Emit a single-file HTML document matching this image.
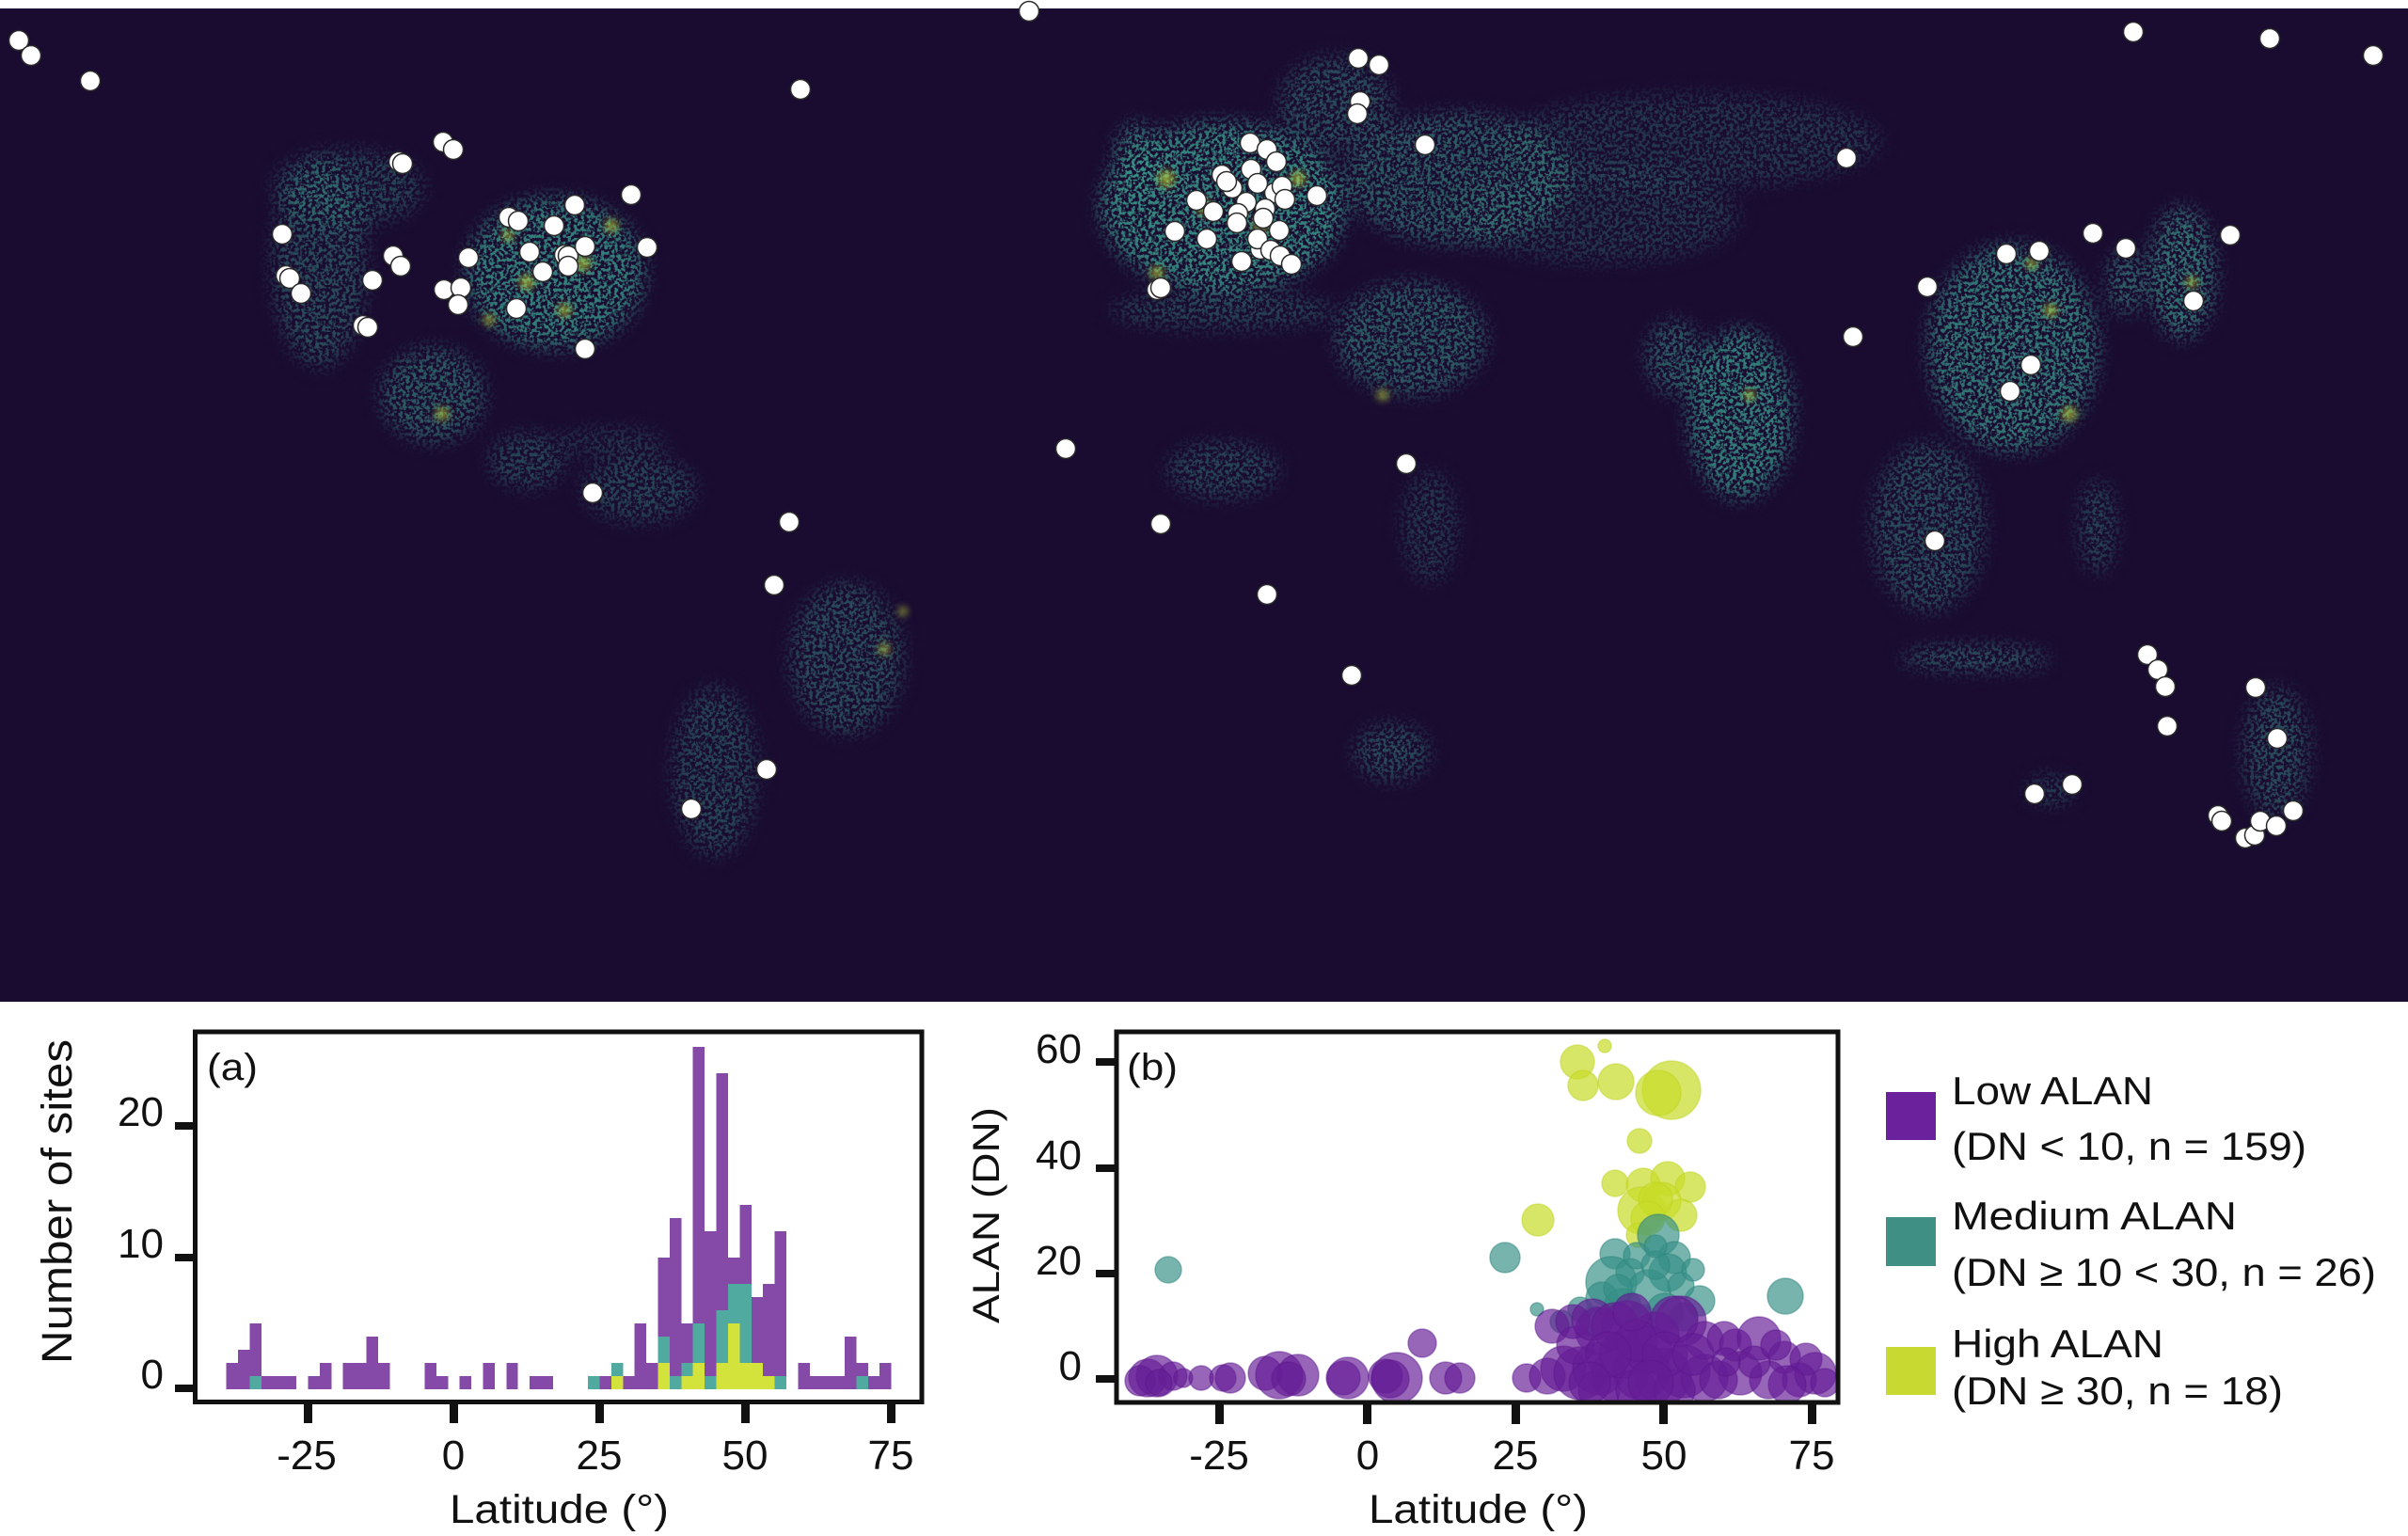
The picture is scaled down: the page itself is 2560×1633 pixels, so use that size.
<!DOCTYPE html>
<html><head><meta charset="utf-8"><style>
html,body{margin:0;padding:0;background:#fff;}
svg{display:block;}
text{font-family:"Liberation Sans",sans-serif;fill:#111;}
</style></head><body>
<svg width="2560" height="1633" viewBox="0 0 2560 1633" xmlns="http://www.w3.org/2000/svg">
<defs>
<filter id="speck" filterUnits="userSpaceOnUse" x="0" y="9" width="2560" height="1056">
<feGaussianBlur in="SourceGraphic" stdDeviation="10" result="b"/>
<feTurbulence type="fractalNoise" baseFrequency="0.28" numOctaves="2" seed="7" result="n"/>
<feColorMatrix in="n" type="matrix" values="0 0 0 0 0  0 0 0 0 0  0 0 0 0 0  0 0 0 6 -2.6" result="m"/>
<feComposite in="b" in2="m" operator="in"/>
</filter>
<filter id="bl2" x="-50%" y="-50%" width="200%" height="200%"><feGaussianBlur stdDeviation="4"/></filter>
<clipPath id="cb"><rect x="1187" y="1097" width="767" height="394"/></clipPath>
</defs>
<rect x="0" y="0" width="2560" height="1633" fill="#fff"/>
<rect x="0" y="9" width="2560" height="1056" fill="#1a0b30"/>
<g filter="url(#speck)" fill="#3a9a8c">
<ellipse cx="590" cy="290" rx="95" ry="80" opacity="0.8"/>
<ellipse cx="340" cy="280" rx="50" ry="110" opacity="0.45"/>
<ellipse cx="370" cy="200" rx="80" ry="40" opacity="0.4"/>
<ellipse cx="460" cy="420" rx="55" ry="50" opacity="0.55"/>
<ellipse cx="560" cy="490" rx="40" ry="30" opacity="0.4"/>
<ellipse cx="650" cy="470" rx="60" ry="15" opacity="0.3"/>
<ellipse cx="680" cy="520" rx="60" ry="35" opacity="0.4"/>
<ellipse cx="900" cy="700" rx="60" ry="80" opacity="0.45"/>
<ellipse cx="760" cy="820" rx="45" ry="90" opacity="0.4"/>
<ellipse cx="1300" cy="220" rx="130" ry="90" opacity="0.85"/>
<ellipse cx="1210" cy="170" rx="25" ry="40" opacity="0.7"/>
<ellipse cx="1420" cy="110" rx="60" ry="50" opacity="0.45"/>
<ellipse cx="1550" cy="190" rx="120" ry="70" opacity="0.55"/>
<ellipse cx="1800" cy="150" rx="200" ry="50" opacity="0.3"/>
<ellipse cx="1700" cy="230" rx="150" ry="50" opacity="0.3"/>
<ellipse cx="1300" cy="330" rx="120" ry="20" opacity="0.4"/>
<ellipse cx="1500" cy="360" rx="80" ry="60" opacity="0.55"/>
<ellipse cx="1300" cy="500" rx="60" ry="30" opacity="0.4"/>
<ellipse cx="1480" cy="800" rx="40" ry="30" opacity="0.45"/>
<ellipse cx="1520" cy="560" rx="30" ry="60" opacity="0.3"/>
<ellipse cx="1850" cy="440" rx="55" ry="90" opacity="0.8"/>
<ellipse cx="1780" cy="380" rx="30" ry="40" opacity="0.55"/>
<ellipse cx="2140" cy="370" rx="90" ry="110" opacity="0.75"/>
<ellipse cx="2320" cy="290" rx="35" ry="70" opacity="0.7"/>
<ellipse cx="2260" cy="300" rx="20" ry="35" opacity="0.6"/>
<ellipse cx="2050" cy="560" rx="60" ry="90" opacity="0.45"/>
<ellipse cx="2100" cy="700" rx="80" ry="12" opacity="0.6"/>
<ellipse cx="2230" cy="560" rx="20" ry="50" opacity="0.4"/>
<ellipse cx="2420" cy="800" rx="35" ry="70" opacity="0.45"/>
<ellipse cx="2180" cy="840" rx="25" ry="15" opacity="0.4"/>
</g>
<g filter="url(#bl2)" fill="#c9e03a" opacity="0.6">
<circle cx="560" cy="300" r="8"/><circle cx="620" cy="280" r="8"/><circle cx="650" cy="240" r="7"/>
<circle cx="540" cy="250" r="6"/><circle cx="600" cy="330" r="7"/><circle cx="520" cy="340" r="6"/>
<circle cx="470" cy="440" r="7"/><circle cx="940" cy="690" r="6"/><circle cx="960" cy="650" r="5"/>
<circle cx="1240" cy="190" r="9"/><circle cx="1280" cy="220" r="8"/><circle cx="1340" cy="240" r="8"/>
<circle cx="1230" cy="290" r="7"/><circle cx="1380" cy="190" r="8"/><circle cx="1470" cy="420" r="6"/>
<circle cx="2200" cy="440" r="8"/><circle cx="2180" cy="330" r="7"/><circle cx="2160" cy="280" r="6"/>
<circle cx="1860" cy="420" r="6"/><circle cx="2330" cy="300" r="6"/>
</g>
<g fill="#fff" stroke="#2a2a2a" stroke-width="1.5">
<circle cx="20" cy="43" r="10.5"/><circle cx="33" cy="59" r="10.5"/><circle cx="96" cy="86" r="10.5"/>
<circle cx="851" cy="95" r="10.5"/><circle cx="1094" cy="12" r="10.5"/>
<circle cx="471" cy="151" r="10.5"/><circle cx="482" cy="159" r="10.5"/>
<circle cx="424" cy="172" r="10.5"/><circle cx="428" cy="174" r="10.5"/>
<circle cx="300" cy="249" r="10.5"/><circle cx="304" cy="293" r="10.5"/><circle cx="308" cy="296" r="10.5"/>
<circle cx="320" cy="312" r="10.5"/><circle cx="396" cy="298" r="10.5"/>
<circle cx="418" cy="272" r="10.5"/><circle cx="426" cy="283" r="10.5"/><circle cx="498" cy="274" r="10.5"/>
<circle cx="472" cy="308" r="10.5"/><circle cx="490" cy="306" r="10.5"/><circle cx="487" cy="324" r="10.5"/>
<circle cx="386" cy="346" r="10.5"/><circle cx="391" cy="348" r="10.5"/>
<circle cx="541" cy="231" r="10.5"/><circle cx="551" cy="235" r="10.5"/><circle cx="611" cy="218" r="10.5"/>
<circle cx="671" cy="207" r="10.5"/><circle cx="589" cy="240" r="10.5"/><circle cx="563" cy="268" r="10.5"/>
<circle cx="600" cy="271" r="10.5"/><circle cx="604" cy="272" r="10.5"/><circle cx="622" cy="262" r="10.5"/>
<circle cx="577" cy="289" r="10.5"/><circle cx="604" cy="283" r="10.5"/><circle cx="688" cy="263" r="10.5"/>
<circle cx="549" cy="328" r="10.5"/><circle cx="622" cy="371" r="10.5"/><circle cx="630" cy="524" r="10.5"/>
<circle cx="1133" cy="477" r="10.5"/>
<circle cx="1444" cy="62" r="10.5"/><circle cx="1466" cy="69" r="10.5"/>
<circle cx="1446" cy="108" r="10.5"/><circle cx="1443" cy="121" r="10.5"/><circle cx="1515" cy="154" r="10.5"/>
<circle cx="1963" cy="168" r="10.5"/><circle cx="2268" cy="34" r="10.5"/><circle cx="2413" cy="41" r="10.5"/>
<circle cx="2523" cy="59" r="10.5"/>
<circle cx="1329" cy="152" r="10.5"/><circle cx="1347" cy="159" r="10.5"/><circle cx="1357" cy="172" r="10.5"/>
<circle cx="1330" cy="180" r="10.5"/><circle cx="1310" cy="200" r="10.5"/><circle cx="1325" cy="215" r="10.5"/>
<circle cx="1355" cy="205" r="10.5"/><circle cx="1290" cy="225" r="10.5"/><circle cx="1360" cy="245" r="10.5"/>
<circle cx="1340" cy="265" r="10.5"/>
<circle cx="1299" cy="186" r="10.5"/><circle cx="1304" cy="193" r="10.5"/>
<circle cx="1337" cy="195" r="10.5"/><circle cx="1363" cy="198" r="10.5"/><circle cx="1400" cy="208" r="10.5"/>
<circle cx="1272" cy="213" r="10.5"/><circle cx="1366" cy="212" r="10.5"/><circle cx="1345" cy="222" r="10.5"/>
<circle cx="1316" cy="227" r="10.5"/><circle cx="1315" cy="237" r="10.5"/><circle cx="1343" cy="232" r="10.5"/>
<circle cx="1249" cy="246" r="10.5"/><circle cx="1283" cy="254" r="10.5"/><circle cx="1337" cy="254" r="10.5"/>
<circle cx="1351" cy="266" r="10.5"/><circle cx="1361" cy="272" r="10.5"/><circle cx="1373" cy="281" r="10.5"/>
<circle cx="1320" cy="278" r="10.5"/><circle cx="1230" cy="308" r="10.5"/><circle cx="1234" cy="306" r="10.5"/>
<circle cx="2133" cy="270" r="10.5"/><circle cx="2168" cy="267" r="10.5"/><circle cx="2225" cy="248" r="10.5"/>
<circle cx="2260" cy="264" r="10.5"/><circle cx="2371" cy="250" r="10.5"/><circle cx="2049" cy="305" r="10.5"/>
<circle cx="2332" cy="320" r="10.5"/><circle cx="1970" cy="358" r="10.5"/><circle cx="2159" cy="388" r="10.5"/>
<circle cx="2137" cy="416" r="10.5"/><circle cx="1495" cy="493" r="10.5"/>
<circle cx="839" cy="555" r="10.5"/><circle cx="823" cy="622" r="10.5"/><circle cx="815" cy="818" r="10.5"/>
<circle cx="735" cy="860" r="10.5"/><circle cx="1234" cy="557" r="10.5"/><circle cx="1347" cy="632" r="10.5"/>
<circle cx="1437" cy="718" r="10.5"/><circle cx="2057" cy="575" r="10.5"/>
<circle cx="2283" cy="696" r="10.5"/><circle cx="2294" cy="712" r="10.5"/><circle cx="2302" cy="730" r="10.5"/>
<circle cx="2304" cy="772" r="10.5"/><circle cx="2398" cy="731" r="10.5"/><circle cx="2421" cy="785" r="10.5"/>
<circle cx="2163" cy="844" r="10.5"/><circle cx="2203" cy="834" r="10.5"/>
<circle cx="2358" cy="867" r="10.5"/><circle cx="2362" cy="873" r="10.5"/><circle cx="2387" cy="891" r="10.5"/>
<circle cx="2397" cy="888" r="10.5"/><circle cx="2403" cy="873" r="10.5"/><circle cx="2420" cy="878" r="10.5"/>
<circle cx="2438" cy="862" r="10.5"/>
</g>

<g shape-rendering="crispEdges">
<g fill="#8549a7">
<rect x="240.7" y="1449" width="12.5" height="28"/>
<rect x="253.1" y="1435" width="12.5" height="42"/>
<rect x="265.5" y="1407" width="12.5" height="56"/>
<rect x="277.9" y="1463" width="12.5" height="14"/>
<rect x="290.3" y="1463" width="12.5" height="14"/>
<rect x="302.7" y="1463" width="12.4" height="14"/>
<rect x="327.5" y="1463" width="12.5" height="14"/>
<rect x="339.9" y="1449" width="12.4" height="28"/>
<rect x="364.7" y="1449" width="12.5" height="28"/>
<rect x="377.1" y="1449" width="12.5" height="28"/>
<rect x="389.5" y="1421" width="12.5" height="56"/>
<rect x="401.9" y="1449" width="12.4" height="28"/>
<rect x="451.5" y="1449" width="12.5" height="28"/>
<rect x="463.9" y="1463" width="12.4" height="14"/>
<rect x="488.7" y="1463" width="12.4" height="14"/>
<rect x="513.5" y="1449" width="12.4" height="28"/>
<rect x="538.3" y="1449" width="12.4" height="28"/>
<rect x="563.1" y="1463" width="12.5" height="14"/>
<rect x="575.5" y="1463" width="12.4" height="14"/>
<rect x="637.5" y="1463" width="12.4" height="14"/>
<rect x="662.3" y="1463" width="12.5" height="14"/>
<rect x="674.7" y="1407" width="12.5" height="70"/>
<rect x="687.1" y="1449" width="12.5" height="28"/>
<rect x="699.5" y="1337" width="12.5" height="84"/>
<rect x="711.9" y="1295" width="12.5" height="168"/>
<rect x="724.3" y="1407" width="12.5" height="42"/>
<rect x="736.7" y="1113" width="12.5" height="294"/>
<rect x="749.1" y="1309" width="12.5" height="154"/>
<rect x="761.5" y="1141" width="12.5" height="252"/>
<rect x="773.9" y="1337" width="12.5" height="28"/>
<rect x="786.3" y="1281" width="12.5" height="84"/>
<rect x="798.7" y="1379" width="12.5" height="70"/>
<rect x="811.1" y="1365" width="12.5" height="98"/>
<rect x="823.5" y="1309" width="12.4" height="154"/>
<rect x="848.3" y="1449" width="12.5" height="28"/>
<rect x="860.7" y="1463" width="12.5" height="14"/>
<rect x="873.1" y="1463" width="12.5" height="14"/>
<rect x="885.5" y="1463" width="12.5" height="14"/>
<rect x="897.9" y="1421" width="12.5" height="56"/>
<rect x="910.3" y="1449" width="12.5" height="14"/>
<rect x="922.7" y="1463" width="12.5" height="14"/>
<rect x="935.1" y="1449" width="12.4" height="28"/>
</g>
<g fill="#50aa9f">
<rect x="265.5" y="1463" width="12.5" height="14"/>
<rect x="625.1" y="1463" width="12.5" height="14"/>
<rect x="649.9" y="1449" width="12.5" height="14"/>
<rect x="699.5" y="1421" width="12.5" height="28"/>
<rect x="711.9" y="1463" width="12.5" height="14"/>
<rect x="724.3" y="1449" width="12.5" height="14"/>
<rect x="736.7" y="1407" width="12.5" height="42"/>
<rect x="749.1" y="1463" width="12.5" height="14"/>
<rect x="761.5" y="1393" width="12.5" height="56"/>
<rect x="773.9" y="1365" width="12.5" height="42"/>
<rect x="786.3" y="1365" width="12.5" height="84"/>
<rect x="823.5" y="1463" width="12.4" height="14"/>
<rect x="910.3" y="1463" width="12.5" height="14"/>
</g>
<g fill="#d4e33c">
<rect x="649.9" y="1463" width="12.5" height="14"/>
<rect x="699.5" y="1449" width="12.5" height="28"/>
<rect x="724.3" y="1463" width="12.5" height="14"/>
<rect x="736.7" y="1449" width="12.5" height="28"/>
<rect x="761.5" y="1449" width="12.5" height="28"/>
<rect x="773.9" y="1407" width="12.5" height="70"/>
<rect x="786.3" y="1449" width="12.5" height="28"/>
<rect x="798.7" y="1449" width="12.5" height="28"/>
<rect x="811.1" y="1463" width="12.5" height="14"/>
</g>
</g>
<rect x="207.5" y="1097" width="772.5" height="393.5" fill="none" stroke="#111" stroke-width="5"/>
<g fill="#111">
<rect x="186" y="1193" width="21" height="8"/>
<rect x="186" y="1333" width="21" height="8"/>
<rect x="186" y="1472" width="21" height="8"/>
<rect x="323" y="1490" width="9" height="23"/>
<rect x="478" y="1490" width="9" height="23"/>
<rect x="633" y="1490" width="9" height="23"/>
<rect x="788" y="1490" width="9" height="23"/>
<rect x="943" y="1490" width="9" height="23"/>
</g>
<g font-size="44" text-anchor="end">
<text x="174" y="1197">20</text>
<text x="174" y="1337">10</text>
<text x="174" y="1476">0</text>
</g>
<g font-size="44" text-anchor="middle">
<text x="326" y="1562">-25</text>
<text x="482" y="1562">0</text>
<text x="637" y="1562">25</text>
<text x="792" y="1562">50</text>
<text x="947" y="1562">75</text>
</g>
<text x="478" y="1619" font-size="43" textLength="233" lengthAdjust="spacingAndGlyphs">Latitude (°)</text>
<text x="220" y="1148" font-size="40" textLength="54" lengthAdjust="spacingAndGlyphs">(a)</text>
<text transform="translate(76,1277.5) rotate(-90)" font-size="45" text-anchor="middle" textLength="345" lengthAdjust="spacingAndGlyphs">Number of sites</text>

<g clip-path="url(#cb)">
<g fill="#c8dc28" fill-opacity="0.7" stroke="#c0d420" stroke-opacity="0.5" stroke-width="1.5">
<circle cx="1677" cy="1129" r="18"/><circle cx="1706" cy="1112" r="7"/><circle cx="1683" cy="1154" r="16"/>
<circle cx="1718" cy="1150" r="19"/><circle cx="1777" cy="1159" r="31"/><circle cx="1763" cy="1162" r="24"/>
<circle cx="1743" cy="1213" r="13"/><circle cx="1717" cy="1258" r="14"/><circle cx="1747" cy="1260" r="18"/>
<circle cx="1773" cy="1253" r="18"/><circle cx="1797" cy="1262" r="16"/><circle cx="1745" cy="1287" r="25"/>
<circle cx="1767" cy="1277" r="20"/><circle cx="1787" cy="1292" r="17"/><circle cx="1635" cy="1297" r="17"/>
<circle cx="1742" cy="1313" r="13"/><circle cx="1760" cy="1275" r="18"/><circle cx="1752" cy="1295" r="18"/>
</g>
<g fill="#379187" fill-opacity="0.68" stroke="#2f867c" stroke-opacity="0.5" stroke-width="1.5">
<circle cx="1242" cy="1350" r="14"/><circle cx="1600" cy="1337" r="16"/><circle cx="1634" cy="1392" r="7"/>
<circle cx="1763" cy="1313" r="22"/><circle cx="1717" cy="1333" r="16"/><circle cx="1780" cy="1337" r="17"/>
<circle cx="1773" cy="1353" r="20"/><circle cx="1713" cy="1363" r="27"/><circle cx="1733" cy="1353" r="15"/>
<circle cx="1753" cy="1373" r="23"/><circle cx="1807" cy="1383" r="16"/><circle cx="1898" cy="1378" r="19"/>
<circle cx="1680" cy="1392" r="13"/><circle cx="1703" cy="1380" r="17"/><circle cx="1787" cy="1367" r="14"/>
<circle cx="1740" cy="1335" r="14"/><circle cx="1760" cy="1345" r="15"/><circle cx="1725" cy="1390" r="20"/>
<circle cx="1770" cy="1395" r="20"/><circle cx="1695" cy="1405" r="16"/><circle cx="1745" cy="1405" r="18"/>
<circle cx="1790" cy="1400" r="15"/><circle cx="1760" cy="1325" r="12"/><circle cx="1720" cy="1370" r="15"/>
<circle cx="1800" cy="1350" r="12"/><circle cx="1660" cy="1405" r="12"/>
</g>
<g fill="#651e96" fill-opacity="0.68" stroke="#5a168c" stroke-opacity="0.45" stroke-width="1.5">
<circle cx="1220" cy="1465" r="20"/><circle cx="1230" cy="1463" r="22"/><circle cx="1247" cy="1463" r="15"/>
<circle cx="1212" cy="1468" r="16"/><circle cx="1258" cy="1465" r="10"/><circle cx="1277" cy="1465" r="13"/>
<circle cx="1300" cy="1465" r="14"/><circle cx="1308" cy="1465" r="16"/><circle cx="1345" cy="1460" r="18"/>
<circle cx="1360" cy="1462" r="25"/><circle cx="1380" cy="1462" r="22"/><circle cx="1370" cy="1466" r="18"/>
<circle cx="1428" cy="1465" r="18"/><circle cx="1433" cy="1465" r="22"/><circle cx="1473" cy="1463" r="18"/>
<circle cx="1485" cy="1465" r="27"/><circle cx="1478" cy="1466" r="20"/><circle cx="1512" cy="1428" r="15"/>
<circle cx="1537" cy="1465" r="17"/><circle cx="1552" cy="1465" r="16"/><circle cx="1623" cy="1465" r="15"/>
<circle cx="1232" cy="1470" r="14"/>
<circle cx="1650" cy="1410" r="18"/><circle cx="1645" cy="1463" r="19"/><circle cx="1662" cy="1455" r="24"/>
<circle cx="1680" cy="1460" r="28"/><circle cx="1700" cy="1455" r="28"/><circle cx="1722" cy="1462" r="30"/>
<circle cx="1745" cy="1458" r="30"/><circle cx="1768" cy="1463" r="30"/><circle cx="1790" cy="1458" r="28"/>
<circle cx="1812" cy="1465" r="25"/><circle cx="1700" cy="1415" r="25"/><circle cx="1730" cy="1410" r="27"/>
<circle cx="1760" cy="1420" r="25"/><circle cx="1787" cy="1405" r="27"/><circle cx="1812" cy="1425" r="20"/>
<circle cx="1675" cy="1430" r="20"/><circle cx="1725" cy="1440" r="25"/><circle cx="1752" cy="1435" r="25"/>
<circle cx="1700" cy="1478" r="22"/><circle cx="1740" cy="1478" r="22"/><circle cx="1780" cy="1478" r="22"/>
<circle cx="1672" cy="1405" r="18"/><circle cx="1693" cy="1403" r="22"/><circle cx="1717" cy="1410" r="25"/>
<circle cx="1780" cy="1403" r="25"/><circle cx="1740" cy="1425" r="22"/>
<circle cx="1710" cy="1440" r="24"/><circle cx="1770" cy="1440" r="24"/><circle cx="1690" cy="1470" r="22"/>
<circle cx="1755" cy="1470" r="24"/><circle cx="1800" cy="1440" r="22"/><circle cx="1735" cy="1395" r="20"/>
<circle cx="1833" cy="1423" r="18"/><circle cx="1845" cy="1430" r="17"/><circle cx="1870" cy="1423" r="23"/>
<circle cx="1897" cy="1443" r="17"/><circle cx="1850" cy="1460" r="23"/><circle cx="1880" cy="1467" r="20"/>
<circle cx="1913" cy="1467" r="18"/><circle cx="1930" cy="1460" r="22"/><circle cx="1920" cy="1445" r="17"/>
<circle cx="1900" cy="1472" r="20"/><circle cx="1827" cy="1467" r="20"/><circle cx="1865" cy="1448" r="17"/>
<circle cx="1835" cy="1448" r="15"/><circle cx="1888" cy="1430" r="16"/><circle cx="1940" cy="1470" r="15"/>
</g>
</g>
<rect x="1187" y="1097" width="767" height="394" fill="none" stroke="#111" stroke-width="5"/>
<g fill="#111">
<rect x="1165" y="1125" width="22" height="8"/>
<rect x="1165" y="1238" width="22" height="8"/>
<rect x="1165" y="1350" width="22" height="8"/>
<rect x="1165" y="1462" width="22" height="8"/>
<rect x="1292" y="1491" width="9" height="23"/>
<rect x="1449" y="1491" width="9" height="23"/>
<rect x="1607" y="1491" width="9" height="23"/>
<rect x="1764" y="1491" width="9" height="23"/>
<rect x="1922" y="1491" width="9" height="23"/>
</g>
<g font-size="44" text-anchor="end">
<text x="1150" y="1130">60</text>
<text x="1150" y="1243">40</text>
<text x="1150" y="1355">20</text>
<text x="1150" y="1467">0</text>
</g>
<g font-size="44" text-anchor="middle">
<text x="1296" y="1562">-25</text>
<text x="1454" y="1562">0</text>
<text x="1611" y="1562">25</text>
<text x="1769" y="1562">50</text>
<text x="1926" y="1562">75</text>
</g>
<text x="1455" y="1619" font-size="43" textLength="233" lengthAdjust="spacingAndGlyphs">Latitude (°)</text>
<text x="1198" y="1148" font-size="40" textLength="54" lengthAdjust="spacingAndGlyphs">(b)</text>
<text transform="translate(1062,1292) rotate(-90)" font-size="40" text-anchor="middle" textLength="230" lengthAdjust="spacingAndGlyphs">ALAN (DN)</text>

<rect x="2005" y="1161" width="53" height="51" fill="#6a219b"/>
<rect x="2005" y="1294" width="53" height="52" fill="#408f85"/>
<rect x="2005" y="1432" width="53" height="51" fill="#c8d932"/>
<g font-size="42">
<text x="2075" y="1174" textLength="214" lengthAdjust="spacingAndGlyphs">Low ALAN</text>
<text x="2075" y="1233" textLength="377" lengthAdjust="spacingAndGlyphs">(DN &lt; 10, n = 159)</text>
<text x="2075" y="1307" textLength="303" lengthAdjust="spacingAndGlyphs">Medium ALAN</text>
<text x="2075" y="1367" textLength="451" lengthAdjust="spacingAndGlyphs">(DN ≥ 10 &lt; 30, n = 26)</text>
<text x="2075" y="1443" textLength="225" lengthAdjust="spacingAndGlyphs">High ALAN</text>
<text x="2075" y="1493" textLength="352" lengthAdjust="spacingAndGlyphs">(DN ≥ 30, n = 18)</text>
</g>
</svg>
</body></html>
